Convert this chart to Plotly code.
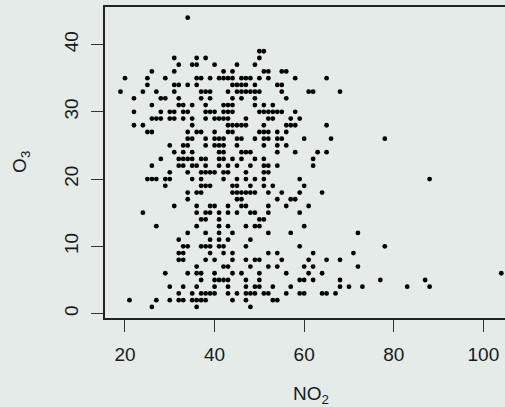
import plotly.graph_objects as go

# O3 levels (y) and the NO2 values (x) observed at each level
o3_levels = [44, 39, 38, 37, 36, 35, 34, 33, 32, 31, 30, 29, 28, 27, 26, 25, 24, 23,
             22, 21, 20, 19, 18, 17, 16, 15, 14, 13, 12, 11, 10, 9, 8, 7, 6, 5, 4, 3, 2, 1]
no2_groups = [
    [34],
    [50, 51],
    [31, 36, 38, 50],
    [32, 35, 36, 40, 45, 49],
    [26, 31, 42, 44, 51, 52, 55, 56],
    [20, 25, 29, 36, 37, 39, 41, 42, 43, 44, 46, 47, 48, 50, 52, 58, 65],
    [25, 31, 32, 34, 36, 44, 45, 46, 47, 49, 54, 55],
    [19, 24, 27, 31, 37, 38, 39, 43, 45, 46, 47, 48, 49, 50, 55, 61, 62, 68],
    [22, 28, 29, 32, 37, 39, 44, 46, 49, 56],
    [26, 32, 33, 35, 38, 42, 43, 44, 49, 51, 53],
    [22, 28, 30, 31, 33, 34, 38, 39, 40, 42, 43, 44, 50, 51, 52, 53, 54, 55, 58],
    [26, 27, 28, 30, 31, 33, 35, 38, 40, 41, 42, 43, 47, 52, 53, 57, 59],
    [22, 24, 35, 43, 44, 45, 46, 47, 51, 56, 57, 58, 65],
    [25, 26, 34, 36, 37, 40, 43, 44, 50, 51, 52, 54, 56],
    [34, 35, 38, 40, 41, 42, 45, 46, 49, 51, 52, 54, 55, 60, 66, 78],
    [30, 33, 34, 38, 40, 41, 42, 45, 51, 54, 56],
    [31, 33, 35, 41, 42, 46, 47, 48, 54, 58, 63, 65],
    [28, 32, 33, 34, 35, 37, 38, 41, 42, 44, 46, 49, 51, 62],
    [26, 32, 33, 35, 36, 38, 41, 43, 45, 48, 51, 52, 54, 62],
    [30, 34, 37, 38, 39, 40, 42, 43, 47, 51, 52],
    [25, 26, 27, 29, 30, 35, 37, 42, 45, 47, 49, 51, 59, 88],
    [29, 37, 38, 39, 44, 45, 48, 51, 53, 60],
    [34, 36, 37, 44, 45, 46, 47, 48, 49, 52, 55, 59, 64],
    [34, 45, 46, 54, 57, 58],
    [31, 36, 39, 40, 43, 46, 47, 52, 56, 61],
    [24, 36, 38, 39, 41, 43, 45, 48, 49, 52, 59],
    [37, 38, 41, 50, 51],
    [27, 36, 41, 43, 47, 49, 50, 60],
    [34, 38, 41, 44, 52, 57, 72],
    [32, 39, 41, 43, 48],
    [33, 34, 37, 38, 39, 41, 42, 47, 59, 78],
    [32, 33, 39, 42, 44, 52, 54, 62, 71],
    [32, 33, 38, 40, 44, 47, 49, 50, 55, 61, 65, 68],
    [36, 42, 43, 48, 52, 54, 60, 62, 72],
    [29, 34, 36, 37, 40, 44, 46, 50, 56, 61, 64, 104],
    [37, 40, 41, 42, 43, 47, 50, 59, 60, 62, 68, 77, 87],
    [30, 33, 36, 40, 43, 47, 49, 50, 53, 57, 68, 70, 73, 83, 88],
    [32, 35, 37, 38, 39, 40, 43, 45, 47, 48, 49, 51, 52, 56, 59, 60, 64, 65, 67],
    [21, 27, 30, 32, 33, 35, 36, 37, 38, 44, 47, 53, 54],
    [26, 36, 48],
]
x_ticks = [20, 40, 60, 80, 100]
y_ticks = [0, 10, 20, 30, 40]
x_title = "NO<sub>2</sub>"
y_title = "O<sub>3</sub>"

no2 = []
o3 = []
for level, group in zip(o3_levels, no2_groups):
    for v in group:
        no2.append(v)
        o3.append(level)

BG = "#e4ebe8"
FONT = "Liberation Sans, Arial, Helvetica, sans-serif"

fig = go.Figure()
fig.add_trace(go.Scatter(
    x=no2, y=o3, mode="markers",
    marker=dict(size=4.8, color="black", line=dict(width=0)),
    showlegend=False, hoverinfo="x+y",
))

axis_common = dict(
    showgrid=False, zeroline=False, showline=True, linecolor="#222", linewidth=1.5,
    ticks="outside", ticklen=12, tickwidth=1.3, tickcolor="#333",
    tickfont=dict(family=FONT, size=19, color="#1a1a1a"),
    ticklabelstandoff=6,
)
fig.update_layout(
    width=505, height=407,
    margin=dict(l=105, r=0, t=7, b=89, pad=0),
    paper_bgcolor=BG, plot_bgcolor=BG,
    font=dict(family=FONT, size=19, color="#1a1a1a"),
    xaxis=dict(range=[15.54, 104.83], tickvals=x_ticks, mirror=True, **axis_common),
    yaxis=dict(range=[-0.65, 45.58], tickvals=y_ticks, tickangle=-90, **axis_common),
    annotations=[
        dict(text=x_title, xref="paper", yref="paper", x=0.515, y=-0.247,
             xanchor="center", yanchor="middle", showarrow=False,
             font=dict(family=FONT, size=19, color="#1a1a1a")),
        dict(text=y_title, xref="paper", yref="paper", x=-0.21, y=0.502,
             xanchor="center", yanchor="middle", showarrow=False, textangle=-90,
             font=dict(family=FONT, size=19, color="#1a1a1a")),
    ],
)
fig.write_html("out.html")
